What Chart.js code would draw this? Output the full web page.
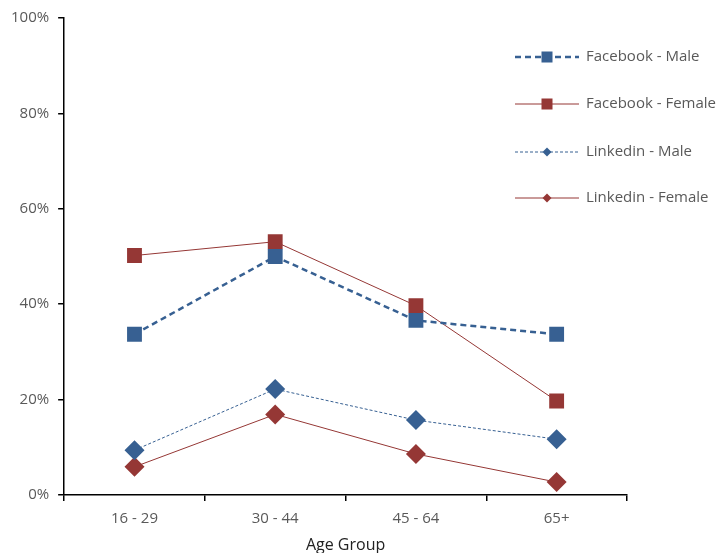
<!DOCTYPE html>
<html>
<head>
<meta charset="utf-8">
<script src="https://cdn.jsdelivr.net/npm/chart.js@4/dist/chart.umd.min.js"></script>
<style>
  html, body { margin: 0; padding: 0; background: #fff; }
  #wrap { width: 720px; height: 553px; position: relative; }
</style>
</head>
<body>
<div id="wrap"><canvas id="chart"></canvas></div>
<script>
"use strict"

// categories + series (percent)
const ageGroups = ["16 - 29", "30 - 44", "45 - 64", "65+"];
const fbMale = [33.7, 50.0, 36.6, 33.7];
const fbFemale = [50.2, 53.1, 39.7, 19.7];
const liMale = [9.4, 22.2, 15.7, 11.7];
const liFemale = [5.9, 16.9, 8.6, 2.7];

const blue = "#376092";
const red = "#953735";
const textGrey = "#595959";
const font = "'Open Sans', 'Noto Sans', sans-serif";

// legend drawn as line + marker, like the original
const lineLegend = {
    id: "lineLegend",
    afterDraw(chart) {
        const ctx = chart.ctx;
        const x0 = 515, x1 = 579, tx = 586;
        const rows = [57, 104, 152, 198];
        chart.data.datasets.forEach((ds, i) => {
            const y = rows[i];
            ctx.save();
            ctx.strokeStyle = ds.borderColor;
            ctx.lineWidth = ds.borderWidth;
            ctx.setLineDash(ds.borderDash || []);
            ctx.beginPath();
            ctx.moveTo(x0, y);
            ctx.lineTo(x1, y);
            ctx.stroke();
            ctx.setLineDash([]);
            ctx.fillStyle = ds.pointBackgroundColor;
            const mx = (x0 + x1) / 2;
            if (ds.pointStyle === "rect") {
                const s = ds.legendMarker;
                ctx.fillRect(mx - s / 2, y - s / 2, s, s);
            } else {
                const r = ds.legendMarker / 2;
                ctx.beginPath();
                ctx.moveTo(mx, y - r);
                ctx.lineTo(mx + r, y);
                ctx.lineTo(mx, y + r);
                ctx.lineTo(mx - r, y);
                ctx.closePath();
                ctx.fill();
            }
            ctx.fillStyle = textGrey;
            ctx.font = "15px " + font;
            ctx.textBaseline = "middle";
            ctx.textAlign = "left";
            ctx.fillText(ds.label, tx, y);
            ctx.restore();
        });
    }
};

let data = {
    labels: ageGroups,
    datasets: [{
        label: "Facebook - Male",
        data: fbMale,
        borderColor: blue,
        backgroundColor: blue,
        pointBackgroundColor: blue,
        pointBorderColor: blue,
        borderWidth: 2.5,
        borderDash: [6, 4],
        pointStyle: "rect",
        pointRadius: 10.5,
        pointBorderWidth: 0,
        legendMarker: 11
    }, {
        label: "Facebook - Female",
        data: fbFemale,
        borderColor: red,
        backgroundColor: red,
        pointBackgroundColor: red,
        pointBorderColor: red,
        borderWidth: 1,
        pointStyle: "rect",
        pointRadius: 10.5,
        pointBorderWidth: 0,
        legendMarker: 11
    }, {
        label: "Linkedin - Male",
        data: liMale,
        borderColor: blue,
        backgroundColor: blue,
        pointBackgroundColor: blue,
        pointBorderColor: blue,
        borderWidth: 1,
        borderDash: [3, 2],
        pointStyle: "rectRot",
        pointRadius: 10,
        pointBorderWidth: 0,
        legendMarker: 9
    }, {
        label: "Linkedin - Female",
        data: liFemale,
        borderColor: red,
        backgroundColor: red,
        pointBackgroundColor: red,
        pointBorderColor: red,
        borderWidth: 1,
        pointStyle: "rectRot",
        pointRadius: 10,
        pointBorderWidth: 0,
        legendMarker: 9
    }]
};

let config = {
    type: "line",
    data: data,
    plugins: [lineLegend],
    options: {
        responsive: true,
        maintainAspectRatio: false,
        animation: false,
        layout: { padding: { top: 10, right: 93, left: 2, bottom: 0 } },
        plugins: {
            legend: { display: false },
            tooltip: { enabled: false }
        },
        scales: {
            x: {
                offset: true,
                grid: {
                    offset: true,
                    drawOnChartArea: false,
                    color: "#000",
                    tickLength: 6,
                    lineWidth: 1.5
                },
                border: { color: "#000", width: 1.5 },
                ticks: { color: textGrey, font: { family: font, size: 15 }, padding: 9 },
                title: {
                    display: true,
                    text: "Age Group",
                    color: "#222",
                    font: { family: font, size: 16, lineHeight: 1 },
                    padding: { top: 0, bottom: 0 }
                }
            },
            y: {
                min: 0,
                max: 100,
                ticks: {
                    stepSize: 20,
                    color: textGrey,
                    font: { family: font, size: 15 },
                    padding: 9,
                    callback: v => v + "%"
                },
                grid: {
                    drawOnChartArea: false,
                    color: "#000",
                    tickLength: 6,
                    lineWidth: 1.5
                },
                border: { color: "#000", width: 1.5 }
            }
        }
    }
};

let ctx = document.querySelector("#chart");
let socialChart = new Chart(ctx, config);
</script>
</body>
</html>
